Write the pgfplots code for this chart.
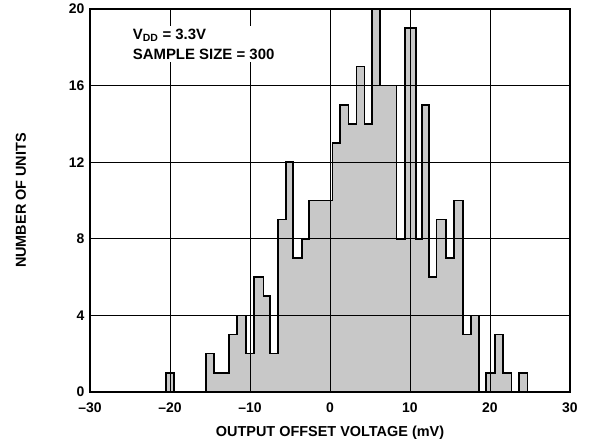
\documentclass[border=0pt]{standalone}
\usepackage{fontspec}
\setmainfont{Liberation Sans}
\usepackage{pgfplots}
\pgfplotsset{compat=1.18}
\definecolor{barfill}{RGB}{200,200,200}
\begin{document}
\begin{tikzpicture}
\useasboundingbox (0,0) rectangle (589bp,446bp);
\begin{axis}[
  at={(90bp,54bp)}, anchor=south west,
  scale only axis, width=480bp, height=383bp,
  xmin=-30, xmax=30, ymin=0, ymax=20,
  xtick={-30,-20,-10,0,10,20,30},
  xticklabels={–30,–20,–10,0,10,20,30},
  ytick={0,4,8,12,16,20},
  grid=major,
  grid style={black, line width=0.8bp},
  axis line style={line width=1.5bp},
  tick style={draw=none},
  axis on top,
  ticklabel style={font=\bfseries\fontsize{14}{14}\selectfont},
  xticklabel style={yshift=-7bp},
  yticklabel style={xshift=-2bp},
  /pgf/number format/assume math mode=true,
  xlabel={OUTPUT OFFSET VOLTAGE (mV)},
  ylabel={NUMBER OF UNITS},
  label style={font=\bfseries\fontsize{14.5}{14.5}\selectfont},
  xlabel style={at={(axis description cs:0.5,-0.107)}, anchor=center},
  ylabel style={at={(axis description cs:-0.14375,0.5)}, anchor=center},
]
\addplot[const plot, fill=barfill, draw=black, line width=1.6bp] coordinates {
(-20.5,1) (-19.5,0) (-15.5,2) (-14.5,1) (-12.6,3) (-11.6,4) (-10.5,2) (-9.5,6)
(-8.3,5) (-7.5,2) (-6.5,9) (-5.5,12) (-4.6,7) (-3.5,8) (-2.6,10) (0.3,13)
(1.25,15) (2.3,14) (3.3,17) (4.3,14) (5.25,20) (6.25,16) (8.3,8) (9.4,19)
(10.75,8) (11.5,15) (12.4,6) (13.3,9) (14.5,7) (15.5,10) (16.6,3) (17.6,4)
(18.6,0) (19.5,1) (20.6,3) (21.6,1) (22.7,0) (23.6,1) (24.7,0)
} \closedcycle;
\coordinate (txt) at (axis cs:-25.05,19.11);
\end{axis}
\node[anchor=north west, fill=white, inner sep=3bp, align=left,
      font=\bfseries\fontsize{15}{19.7}\selectfont] at (txt)
  {V\textsubscript{DD} = 3.3V\\SAMPLE SIZE = 300};
\end{tikzpicture}
\end{document}
